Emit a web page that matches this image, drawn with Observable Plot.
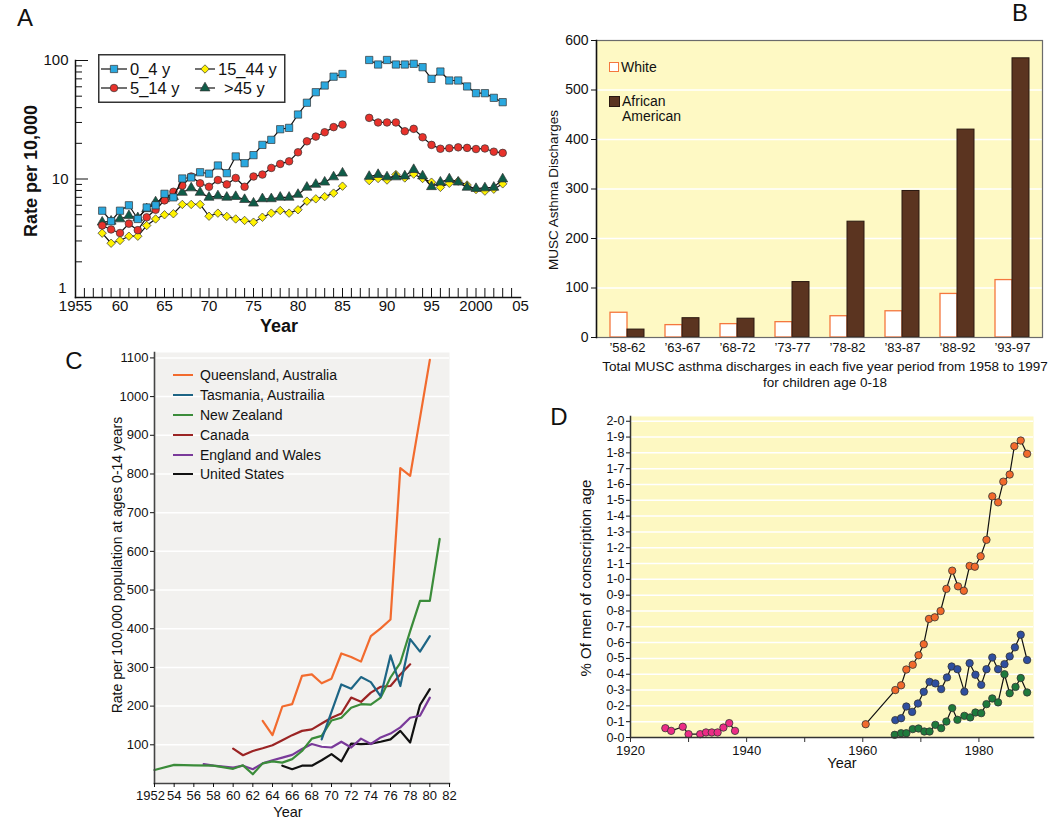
<!DOCTYPE html>
<html><head><meta charset="utf-8">
<script src="https://cdn.jsdelivr.net/npm/d3@7"></script>
<script src="https://cdn.jsdelivr.net/npm/@observablehq/plot@0.6"></script>
<style>
body{margin:0;background:#fff;font-family:"Liberation Sans",Arial,Helvetica,sans-serif;color:#111}
#root{position:relative;width:1050px;height:820px;overflow:hidden;background:#fff}
.panel{position:absolute}
.lbl{position:absolute;white-space:nowrap;line-height:1}
</style></head><body><div id="root"></div>
<script>
// ---------------- DATA ----------------
// Panel A: asthma hospitalisation rate per 10,000 by age group (log scale)
const yearsA = [1958,1959,1960,1961,1962,1963,1964,1965,1966,1967,1968,1969,1970,1971,1972,1973,1974,1975,1976,1977,1978,1979,1980,1981,1982,1983,1984,1985,
                1988,1989,1990,1991,1992,1993,1994,1995,1996,1997,1998,1999,2000,2001,2002,2003];
const rate0_4 = [5.4,4.4,5.4,6.0,4.6,5.75,6.0,7.5,7.0,10.1,10.3,11.4,11.1,13.0,11.2,15.5,13.6,15.9,19.4,21.4,26.3,27.0,35,44,54,61.5,73,77,
                 101,92.5,101,92.5,92.5,93.8,87.8,70,80.7,67.8,67.8,60.4,53,53,48.4,44.5];
const rate5_14 = [4.05,3.75,3.5,4.2,3.7,4.75,5.5,6.6,7.8,8.8,10.5,9.2,8.6,9.8,9.0,10.2,8.6,10.5,10.9,12.4,13.4,14.1,16.8,20.8,22.8,24.8,27.4,28.8,
                  32.8,30,30,30,25.3,26.5,22.5,19.4,18,18.2,18.5,18.3,17.9,18.1,17,16.6];
const rate15_44 = [3.49,2.87,3.03,3.29,3.29,4.05,4.6,4.99,5.09,6.1,6.1,6.1,4.85,5.15,4.83,4.6,4.47,4.32,4.76,5.15,5.42,5.15,5.5,6.5,6.8,7.1,7.6,8.7,
                   9.7,10.1,9.8,10.9,10.2,11.0,10.1,9.4,8.5,9.2,9.6,8.9,8.15,7.9,8.2,9.1];
const rate45 = [4.32,4.4,4.6,4.9,4.7,5.6,6.4,6.8,7.1,7.7,8.4,7.7,7.0,7.2,7.0,7.1,6.7,6.25,6.8,6.8,7.0,7.0,7.4,8.5,9.0,9.4,10.4,11.2,
                10.5,10.9,10.4,10.4,10.6,12.0,10.6,8.6,9.4,10.0,9.4,8.5,8.3,8.4,8.5,10.0];
const namesA = ["0_4 y","5_14 y","15_44 y",">45 y"];
const xLabelYearsA = [1955,1960,1965,1970,1975,1980,1985,1990,1995,2000,2005];

// Panel B: MUSC asthma discharges per five-year period
const periods = ["\u201958-62","\u201963-67","\u201968-72","\u201973-77","\u201978-82","\u201983-87","\u201988-92","\u201993-97"];
const white = [50,25,27,31,43,53,88,116];
const africanAmerican = [16,39,38,112,234,296,420,564];
const yTicksB = [0,100,200,300,400,500,600];

// Panel C: rate per 100,000 at ages 0-14 ([year, rate])
const queensland = [[1963,162],[1964,125],[1965,199],[1966,205],[1967,278],[1968,282],[1969,259],[1970,271],[1971,336],[1972,327],[1973,315],[1974,381],[1975,401],[1976,424],[1977,815],[1978,795],[1980,1095]];
const tasmania = [[1969,114],[1971,256],[1972,245],[1973,275],[1974,262],[1975,225],[1976,331],[1977,252],[1978,373],[1979,341],[1980,381]];
const newZealand = [[1952,35],[1954,48],[1956,47],[1958,46],[1960,38],[1961,47],[1962,24],[1963,52],[1964,57],[1965,54],[1966,63],[1967,84],[1968,116],[1969,123],[1970,163],[1971,170],[1972,196],[1973,205],[1974,204],[1975,222],[1976,274],[1977,312],[1978,394],[1979,472],[1980,472],[1981,632]];
const canada = [[1960,90],[1961,73],[1962,84],[1963,91],[1964,99],[1965,112],[1966,125],[1967,136],[1968,140],[1969,155],[1970,170],[1971,181],[1972,222],[1973,211],[1974,235],[1975,250],[1976,252],[1977,282],[1978,308]];
const englandWales = [[1957,50],[1958,46],[1960,41],[1961,46],[1962,37],[1963,52],[1964,60],[1965,67],[1966,74],[1967,89],[1968,102],[1969,95],[1970,93],[1971,108],[1972,93],[1973,116],[1974,102],[1975,119],[1976,129],[1977,145],[1978,170],[1979,175],[1980,222]];
const unitedStates = [[1965,46],[1966,37],[1967,46],[1968,46],[1969,60],[1970,76],[1971,57],[1972,103],[1973,102],[1974,103],[1975,108],[1976,114],[1977,136],[1978,106],[1979,203],[1980,244]];
const countries = ["Queensland, Australia","Tasmania, Austrailia","New Zealand","Canada","England and Wales","United States"];

// Panel D: % of men of conscription age
const pinkYears = [1926,1927,1929,1930,1932,1933,1934,1935,1936,1937,1938];
const pinkValues = [0.059,0.042,0.068,0.021,0.021,0.032,0.032,0.032,0.063,0.091,0.042];
const orangeYears = [1960.5,1965.6,1966.6,1967.5,1968.6,1969.6,1970.5,1971.4,1972.4,1973.4,1974.4,1975.4,1976.4,1977.4,1978.4,1979.3,1980.3,1981.3,1982.3,1983.3,1984.2,1985.3,1986.1,1987.2,1988.3];
const orangeValues = [0.084,0.30,0.33,0.43,0.46,0.52,0.59,0.75,0.76,0.80,0.94,1.055,0.956,0.928,1.085,1.08,1.146,1.25,1.525,1.487,1.618,1.663,1.842,1.878,1.794];
const blueYears = [1965.6,1966.6,1967.5,1968.5,1969.5,1970.5,1971.5,1972.5,1973.5,1974.5,1975.3,1976.3,1977.5,1978.4,1979.4,1980.4,1981.3,1982.3,1983.3,1984.4,1985.3,1986.2,1987.2,1988.3];
const blueValues = [0.11,0.122,0.196,0.162,0.215,0.289,0.352,0.342,0.306,0.38,0.449,0.432,0.29,0.47,0.397,0.333,0.432,0.506,0.432,0.464,0.513,0.57,0.65,0.49];
const greenYears = [1965.5,1966.6,1967.5,1968.6,1969.6,1970.6,1971.5,1972.5,1973.5,1974.4,1975.4,1976.3,1977.5,1978.5,1979.4,1980.4,1981.3,1982.3,1983.3,1984.4,1985.3,1986.3,1987.2,1988.3];
const greenValues = [0.017,0.027,0.027,0.053,0.057,0.038,0.038,0.08,0.059,0.101,0.186,0.112,0.137,0.127,0.158,0.154,0.211,0.247,0.222,0.40,0.28,0.32,0.376,0.285];

// ---------------- STYLES ----------------
const FONT = "Liberation Sans, Arial, Helvetica, sans-serif";
const baseStyle = {fontFamily: FONT, color: "#111", background: "transparent", overflow: "visible"};
const styleA = {
  "0_4 y":  {fill: "#2aa8df", symbol: "square",   r: 4.1},
  "5_14 y": {fill: "#e8322b", symbol: "circle",   r: 3.8},
  "15_44 y":{fill: "#fff200", symbol: "diamond2", r: 3.8},
  ">45 y":  {fill: "#0f5c48", symbol: "triangle", r: 3.7}
};
const colorsC = ["#f26b2e","#1d6585","#3b8c3a","#9b2424","#7a3a9a","#111111"];

const root = document.getElementById("root");
function place(node, left, top) {
  const d = document.createElement("div");
  d.className = "panel"; d.style.left = left + "px"; d.style.top = top + "px";
  d.appendChild(node); root.appendChild(d); return d;
}
function text(t, x, y, {size = 14, weight = "normal", rotate = false, anchor = "middle", color = "#111"} = {}) {
  const d = document.createElement("div");
  d.className = "lbl"; d.textContent = t;
  d.style.fontSize = size + "px"; d.style.fontWeight = weight; d.style.color = color;
  d.style.left = x + "px"; d.style.top = y + "px";
  if (rotate) {
    d.style.transformOrigin = "0 0";
    d.style.transform = "rotate(-90deg) translate(-50%,-50%)";
  } else {
    d.style.transform = `translate(${anchor === "middle" ? "-50%" : "0"},-50%)`;
  }
  root.appendChild(d); return d;
}

// ---------------- PANEL A ----------------
{
  const series = [["15_44 y", rate15_44], [">45 y", rate45], ["5_14 y", rate5_14], ["0_4 y", rate0_4]];
  const marks = [];
  for (const [name, vals] of series) {
    const rows = yearsA.map((yr, i) => ({year: yr, value: vals[i], seg: yr < 1987 ? "a" : "b"}));
    const s = styleA[name];
    marks.push(Plot.line(rows, {x: "year", y: "value", z: "seg", stroke: "#111", strokeWidth: 1.2}));
    marks.push(Plot.dot(rows, {x: "year", y: "value", symbol: () => s.symbol, fill: s.fill, stroke: "#333", strokeWidth: 0.7, r: s.r}));
  }
  const minor = [2,3,4,5,6,7,8,9,20,30,40,50,60,70,80,90];
  const chart = Plot.plot({
    width: 525, height: 345, marginLeft: 75, marginRight: 5, marginTop: 60, marginBottom: 48,
    style: baseStyle,
    x: {domain: [1955, 2005]},
    y: {type: "log", domain: [1, 100]},
    symbol: {type: "identity"},
    marks: [
      ...marks,
      Plot.frame({anchor: "left", stroke: "#111", strokeWidth: 1.5}),
      Plot.frame({anchor: "bottom", stroke: "#111", strokeWidth: 1.5}),
      Plot.axisX(d3.range(1956, 2005), {tickSize: 9, dy: -9, fill: "none", stroke: "#111", label: null}),
      Plot.axisY(minor, {tickSize: 7, dx: 7, fill: "none", stroke: "#111", label: null}),
      Plot.axisY([1, 10, 100], {tickSize: 13, dx: 13, fill: "none", stroke: "#111", label: null}),
      Plot.axisY([10, 100], {tickSize: 0, tickPadding: 7, fontSize: 15, tickFormat: d => String(d), label: null}),
      Plot.axisY([1], {tickSize: 0, tickPadding: 9, dy: -9, fontSize: 15, tickFormat: d => String(d), label: null}),
      Plot.axisX(xLabelYearsA, {tickSize: 0, tickPadding: 3, fontSize: 15,
        tickFormat: d => (d === 1955 || d === 2000) ? String(d) : String(d % 100).padStart(2, "0"), label: null})
    ]
  });
  place(chart, 0, 0);

  // legend box
  const lg = d3.create("svg").attr("width", 190).attr("height", 52).style("overflow", "visible");
  lg.append("rect").attr("x", 0.75).attr("y", 0.75).attr("width", 186).attr("height", 47.5)
    .attr("fill", "#fff").attr("stroke", "#333").attr("stroke-width", 1.5);
  const items = [
    {name: "0_4 y", x1: 3, x2: 29, cx: 16, tx: 32, y: 15},
    {name: "15_44 y", x1: 97, x2: 117, cx: 107, tx: 120, y: 15},
    {name: "5_14 y", x1: 3, x2: 29, cx: 16, tx: 32, y: 34},
    {name: ">45 y", x1: 97, x2: 117, cx: 107, tx: 126, y: 34}
  ];
  const symMap = {square: d3.symbolSquare, circle: d3.symbolCircle, diamond2: d3.symbolDiamond2 || d3.symbolDiamond, triangle: d3.symbolTriangle};
  for (const it of items) {
    const s = styleA[it.name];
    lg.append("line").attr("x1", it.x1).attr("x2", it.x2).attr("y1", it.y).attr("y2", it.y).attr("stroke", "#111").attr("stroke-width", 1.2);
    lg.append("path").attr("transform", `translate(${it.cx},${it.y})`)
      .attr("d", d3.symbol(symMap[s.symbol], Math.PI * s.r * s.r)())
      .attr("fill", s.fill).attr("stroke", "#333").attr("stroke-width", 0.7);
    lg.append("text").attr("x", it.tx).attr("y", it.y).attr("dy", "0.36em")
      .attr("font-family", FONT).attr("font-size", 16.5).attr("fill", "#111").text(it.name);
  }
  place(lg.node(), 98, 54);

  text("Rate per 10,000", 31, 171, {size: 18, weight: "bold", rotate: true});
  text("Year", 279, 326, {size: 18, weight: "bold"});
  text("A", 25, 18, {size: 24});
}

// ---------------- PANEL B ----------------
{
  const rowsW = periods.map((p, i) => ({period: p, value: white[i]}));
  const rowsAA = periods.map((p, i) => ({period: p, value: africanAmerican[i]}));
  const chart = Plot.plot({
    width: 525, height: 365, marginLeft: 71, marginRight: 8, marginTop: 40, marginBottom: 28,
    style: baseStyle,
    x: {domain: periods, paddingInner: 0.39, paddingOuter: 0.2},
    y: {domain: [0, 600]},
    marks: [
      Plot.frame({fill: "#fef9c4"}),
      Plot.gridY([100, 200, 300, 400, 500], {stroke: "#fff", strokeOpacity: 1, strokeWidth: 1.5}),
      Plot.barY(rowsW, {x: "period", y: "value", fill: "#fff", stroke: "#f4773e", strokeWidth: 1.3, insetRight: 17}),
      Plot.barY(rowsAA, {x: "period", y: "value", fill: "#5b3420", stroke: "#2a1810", strokeWidth: 1, insetLeft: 17}),
      Plot.frame({stroke: "#6b6b6b", strokeWidth: 1.2}),
      Plot.frame({anchor: "left", stroke: "#111", strokeWidth: 1.5}),
      Plot.axisY(yTicksB, {tickSize: 5, tickPadding: 3, fontSize: 14, label: null}),
      Plot.axisX({tickSize: 0, tickPadding: 5, fontSize: 13, label: null})
    ]
  });
  place(chart, 525, 0);
  // legend
  const sw1 = document.createElement("div");
  Object.assign(sw1.style, {position: "absolute", left: "609px", top: "62px", width: "8px", height: "8px", background: "#fff", border: "1.5px solid #f4773e"});
  root.appendChild(sw1);
  const sw2 = document.createElement("div");
  Object.assign(sw2.style, {position: "absolute", left: "609px", top: "96px", width: "9px", height: "9px", background: "#5b3420", border: "1px solid #2a1810"});
  root.appendChild(sw2);
  text("White", 621, 67, {size: 14, anchor: "start"});
  text("African", 622, 101, {size: 14, anchor: "start"});
  text("American", 622, 116, {size: 14, anchor: "start"});
  text("MUSC Asthma Discharges", 554, 190, {size: 13.5, rotate: true});
  text("Total MUSC asthma discharges in each five year period from 1958 to 1997", 825, 367, {size: 13.5});
  text("for children age 0-18", 825, 383, {size: 13.5});
  text("B", 1020, 13, {size: 24});
}

// ---------------- PANEL C ----------------
{
  const seriesC = [[countries[5], unitedStates], [countries[4], englandWales], [countries[3], canada],
                   [countries[2], newZealand], [countries[1], tasmania], [countries[0], queensland]];
  const rows = seriesC.flatMap(([name, pts]) => pts.map(([year, value]) => ({country: name, year, value})));
  const chart = Plot.plot({
    width: 525, height: 475, marginLeft: 154, marginRight: 76, marginTop: 7, marginBottom: 37,
    style: baseStyle,
    x: {domain: [1952, 1982]},
    y: {domain: [0, 1114]},
    color: {domain: countries, range: colorsC},
    marks: [
      Plot.frame({fill: "#f2f1ef"}),
      Plot.gridY(d3.range(100, 1101, 100), {stroke: "#fff", strokeOpacity: 1, strokeWidth: 1.5}),
      Plot.line(rows, {x: "year", y: "value", z: "country", stroke: "country", strokeWidth: 2.2}),
      Plot.frame({anchor: "left", stroke: "#444", strokeWidth: 1.6}),
      Plot.frame({anchor: "bottom", stroke: "#444", strokeWidth: 1.6}),
      Plot.axisY(d3.range(100, 1101, 100), {tickSize: 4, tickPadding: 2, fontSize: 13, tickFormat: d => String(d), label: null}),
      Plot.axisX(d3.range(1954, 1983, 2), {tickSize: 4, tickPadding: 3, fontSize: 13,
        tickFormat: d => String(d % 100), label: null}),
      Plot.axisX([1952], {tickSize: 4, tickPadding: 3, fontSize: 13, stroke: "none", dx: -4,
        tickFormat: d => String(d), label: null}),
      Plot.axisX([1952], {tickSize: 4, fill: "none", label: null})
    ]
  });
  place(chart, 0, 345);
  const rowsY = [375, 395, 415, 435, 455, 474];
  countries.forEach((c, i) => {
    const ln = document.createElement("div");
    Object.assign(ln.style, {position: "absolute", left: "173px", top: (rowsY[i] - 1.2) + "px", width: "20px", height: "2.5px", background: colorsC[i]});
    root.appendChild(ln);
    text(c, 200, rowsY[i], {size: 14, anchor: "start"});
  });
  text("Rate per 100,000 population at ages 0-14 years", 117, 565, {size: 14, rotate: true});
  text("Year", 288, 812, {size: 14.5});
  text("C", 74, 361, {size: 24});
}

// ---------------- PANEL D ----------------
{
  const seriesD = [
    [pinkYears, pinkValues, "#ec2c86"],
    [orangeYears, orangeValues, "#f26a2c"],
    [blueYears, blueValues, "#2f4f9f"],
    [greenYears, greenValues, "#1e7a3c"]
  ];
  const marks = [];
  for (const [yrs, vals, col] of seriesD) {
    const rows = yrs.map((y, i) => ({year: y, value: vals[i]}));
    marks.push(Plot.line(rows, {x: "year", y: "value", stroke: "#111", strokeWidth: 1.2}));
    marks.push(Plot.dot(rows, {x: "year", y: "value", r: 3.7, fill: col, stroke: "#333", strokeWidth: 0.8}));
  }
  const yT = d3.range(0, 21).map(i => i / 10);
  const chart = Plot.plot({
    width: 525, height: 420, marginLeft: 105, marginRight: 17, marginTop: 16, marginBottom: 83,
    style: baseStyle,
    x: {domain: [1920, 1989.4]},
    y: {domain: [0, 2.03]},
    marks: [
      Plot.frame({fill: "#fdf8c2"}),
      Plot.gridY(yT.slice(1), {stroke: "#fff", strokeOpacity: 1, strokeWidth: 1.5}),
      ...marks,
      Plot.frame({anchor: "left", stroke: "#333", strokeWidth: 1.5}),
      Plot.frame({anchor: "bottom", stroke: "#333", strokeWidth: 1.5}),
      Plot.axisY(yT, {tickSize: 4, tickPadding: 2, fontSize: 12.5, tickFormat: d => d.toFixed(1).replace(".", "-"), label: null}),
      Plot.axisX([1920, 1930, 1940, 1950, 1960, 1970, 1980], {tickSize: 5, fill: "none", stroke: "#333", label: null}),
      Plot.axisX([1920, 1940, 1960, 1980], {tickSize: 0, tickPadding: 8, fontSize: 13, tickFormat: d => String(d), label: null})
    ]
  });
  place(chart, 525, 400);
  text("% Of men of conscription age", 585, 578, {size: 15, rotate: true});
  text("Year", 842, 763, {size: 14.5});
  text("D", 559, 417, {size: 24});
}
</script></body></html>
